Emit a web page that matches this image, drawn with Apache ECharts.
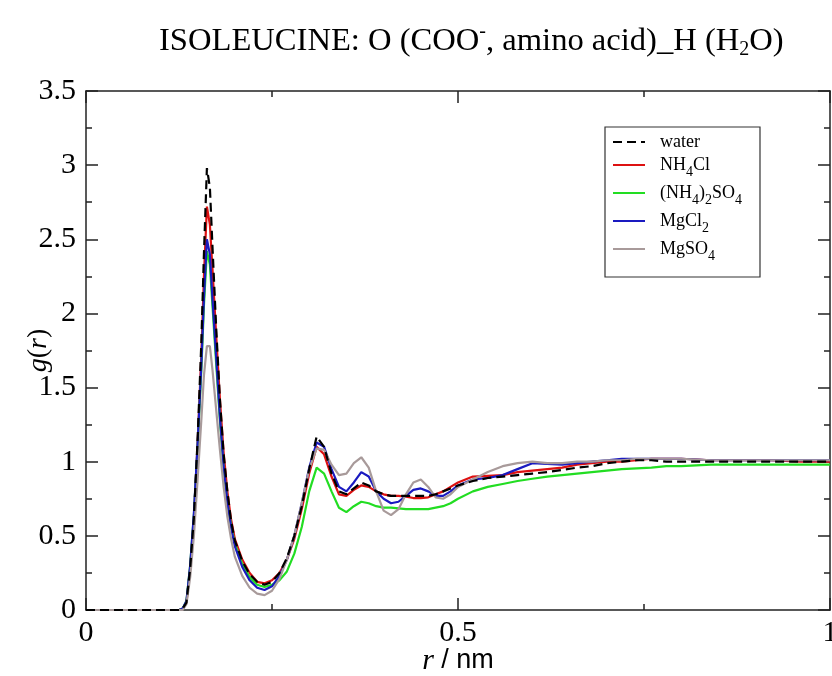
<!DOCTYPE html>
<html>
<head>
<meta charset="utf-8">
<script src="https://cdn.jsdelivr.net/npm/echarts@6/dist/echarts.min.js"></script>
<style>html,body{margin:0;padding:0;background:#fff}#c{width:832px;height:676px}</style>
</head>
<body>
<div id="c"></div>
<script>
var seriesNames = ['water', 'NH4Cl', '(NH4)2SO4', 'MgCl2', 'MgSO4'];
var rValues = [0, 0.05, 0.10, 0.125, 0.13, 0.135, 0.14, 0.145, 0.15, 0.155, 0.1585, 0.1625, 0.1665, 0.17, 0.175, 0.18, 0.185, 0.19, 0.195, 0.20, 0.21, 0.22, 0.23, 0.24, 0.25, 0.26, 0.27, 0.28, 0.29, 0.30, 0.31, 0.32, 0.33, 0.34, 0.35, 0.36, 0.37, 0.38, 0.39, 0.40, 0.41, 0.42, 0.43, 0.44, 0.45, 0.46, 0.47, 0.48, 0.49, 0.50, 0.52, 0.54, 0.56, 0.58, 0.60, 0.62, 0.64, 0.66, 0.68, 0.70, 0.72, 0.74, 0.76, 0.78, 0.80, 0.84, 0.88, 0.92, 0.96, 1.0];
var water = [0, 0, 0, 0, 0.01, 0.05, 0.28, 0.62, 1.15, 1.8, 2.4, 2.98, 2.85, 2.45, 1.9, 1.42, 1.05, 0.8, 0.6, 0.47, 0.33, 0.24, 0.19, 0.17, 0.19, 0.25, 0.35, 0.5, 0.7, 0.95, 1.17, 1.1, 0.92, 0.8, 0.78, 0.82, 0.86, 0.84, 0.8, 0.78, 0.77, 0.77, 0.77, 0.77, 0.77, 0.77, 0.78, 0.8, 0.82, 0.84, 0.87, 0.89, 0.9, 0.91, 0.92, 0.93, 0.945, 0.96, 0.97, 0.99, 1.0, 1.01, 1.01, 1.0, 1.0, 1.0, 1.0, 1.0, 1.0, 1.0];
var nh4cl = [0, 0, 0, 0, 0.01, 0.05, 0.28, 0.62, 1.12, 1.72, 2.25, 2.72, 2.6, 2.3, 1.85, 1.42, 1.06, 0.8, 0.61, 0.48, 0.34, 0.25, 0.19, 0.18, 0.2, 0.25, 0.34, 0.48, 0.68, 0.92, 1.1, 1.05, 0.9, 0.78, 0.77, 0.81, 0.84, 0.83, 0.8, 0.78, 0.77, 0.77, 0.765, 0.755, 0.755, 0.76, 0.78, 0.8, 0.83, 0.86, 0.9, 0.905, 0.91, 0.93, 0.94, 0.95, 0.96, 0.98, 0.99, 1.0, 1.0, 1.01, 1.02, 1.02, 1.02, 1.01, 1.01, 1.01, 1.0, 1.0];
var nh42so4 = [0, 0, 0, 0, 0.01, 0.06, 0.3, 0.64, 1.1, 1.62, 2.05, 2.42, 2.33, 2.05, 1.66, 1.28, 0.96, 0.73, 0.57, 0.45, 0.31, 0.22, 0.17, 0.155, 0.17, 0.2, 0.26, 0.38, 0.56, 0.8, 0.96, 0.92, 0.8, 0.69, 0.66, 0.7, 0.73, 0.72, 0.7, 0.69, 0.69, 0.685, 0.68, 0.68, 0.68, 0.68, 0.69, 0.7, 0.72, 0.75, 0.8, 0.83, 0.85, 0.87, 0.885, 0.9, 0.91, 0.92, 0.93, 0.94, 0.95, 0.955, 0.96, 0.97, 0.97, 0.98, 0.98, 0.98, 0.98, 0.98];
var mgcl2 = [0, 0, 0, 0, 0.01, 0.06, 0.3, 0.65, 1.12, 1.65, 2.1, 2.5, 2.4, 2.1, 1.7, 1.3, 0.97, 0.73, 0.56, 0.43, 0.29, 0.2, 0.15, 0.135, 0.16, 0.23, 0.34, 0.5, 0.72, 0.96, 1.13, 1.1, 0.95, 0.83, 0.8, 0.86, 0.93, 0.9, 0.8, 0.75, 0.72, 0.73, 0.77, 0.81, 0.82, 0.8, 0.77, 0.77, 0.8, 0.84, 0.88, 0.89, 0.91, 0.95, 0.99, 0.985, 0.98, 0.99, 1.0, 1.01, 1.02, 1.02, 1.02, 1.02, 1.02, 1.01, 1.01, 1.01, 1.01, 1.01];
var mgso4 = [0, 0, 0, 0, 0, 0.04, 0.22, 0.5, 0.88, 1.28, 1.58, 1.78, 1.78, 1.62, 1.35, 1.08, 0.83, 0.63, 0.48, 0.36, 0.23, 0.15, 0.11, 0.1, 0.13, 0.21, 0.34, 0.5, 0.72, 0.95, 1.09, 1.08, 0.98, 0.91, 0.92, 0.99, 1.03, 0.96, 0.8, 0.67, 0.64, 0.68, 0.78, 0.86, 0.88, 0.83, 0.76, 0.75, 0.78, 0.83, 0.88, 0.93, 0.97, 0.99, 1.0, 0.99, 0.99, 1.0, 1.0, 1.01, 1.01, 1.02, 1.02, 1.02, 1.02, 1.01, 1.01, 1.01, 1.01, 1.01];
var xTicks = [0, 0.5, 1];
var yTicks = [0, 0.5, 1, 1.5, 2, 2.5, 3, 3.5];

function pairs(vals) { return rValues.map(function (r, i) { return [r, vals[i]]; }); }

var serif = 'Liberation Serif';
var chart = echarts.init(document.getElementById('c'), null, { renderer: 'canvas' });
var legendLabels = {
  'water': '{p|}{t|water}',
  'NH4Cl': '{p|}{t|NH}{s|4}{t|Cl}',
  '(NH4)2SO4': '{p|}{t|(NH}{s|4}{t|)}{s|2}{t|SO}{s|4}',
  'MgCl2': '{p|}{t|MgCl}{s|2}',
  'MgSO4': '{p|}{t|MgSO}{s|4}'
};
var axisCommon = function () {
  return {
    axisLine: { show: true, onZero: false, lineStyle: { color: '#222', width: 1.5 } },
    axisTick: { show: true, inside: true, length: 12, lineStyle: { color: '#222', width: 1.5 } },
    minorTick: { show: true, splitNumber: 2, length: 6, lineStyle: { color: '#222', width: 1.5 } },
    splitLine: { show: false }
  };
};
var colors = ['#000000', '#dd1111', '#22dd22', '#1a1ac0', '#a89a9a'];
var dataSets = [water, nh4cl, nh42so4, mgcl2, mgso4];
var series = seriesNames.map(function (n, i) {
  return {
    name: n, type: 'line', data: pairs(dataSets[i]), showSymbol: false, symbol: 'none',
    z: i === 0 ? 10 : 2 + i,
    lineStyle: { color: colors[i], width: 2.2, type: i === 0 ? [9, 5] : 'solid' },
    itemStyle: { color: colors[i] }
  };
});

chart.setOption({
  animation: false,
  backgroundColor: '#fff',
  title: {
    text: '{a|ISOLEUCINE: O (COO}{sup|-}{a|, amino acid)_H (H}{sub|2}{a|O)}',
    left: 154, top: 17,
    textStyle: {
      rich: {
        a: { fontFamily: serif, fontSize: 32.6, fontWeight: 'normal', color: '#000' },
        sup: { fontFamily: serif, fontSize: 20, fontWeight: 'normal', color: '#000', padding: [0, 0, 18, 0] },
        sub: { fontFamily: serif, fontSize: 20, fontWeight: 'normal', color: '#000', padding: [18, 0, 0, 0] }
      }
    }
  },
  legend: {
    orient: 'vertical', left: 605, top: 127,
    data: seriesNames,
    borderColor: '#333', borderWidth: 1.2, padding: [6, 18, 14, 7],
    itemWidth: 32, itemHeight: 12, itemGap: 5,
    itemStyle: { opacity: 0 },
    formatter: function (n) { return legendLabels[n]; },
    textStyle: {
      rich: {
        p: { width: 10 },
        t: { fontFamily: serif, fontSize: 18, color: '#000' },
        s: { fontFamily: serif, fontSize: 14, color: '#000', padding: [14, 0, 0, 0] }
      }
    }
  },
  grid: { left: 86, right: 2, top: 91, bottom: 66, containLabel: false, outerBoundsMode: 'none' },
  xAxis: [
    Object.assign(axisCommon(), {
      type: 'value', min: xTicks[0], max: xTicks[xTicks.length - 1], interval: 0.5, position: 'bottom',
      axisLabel: { show: true, fontFamily: serif, fontSize: 30, color: '#000', margin: 8 },
      name: '{i|r}{n| / nm}', nameLocation: 'middle', nameGap: 36, nameMoveOverlap: false,
      nameTextStyle: { rich: { i: { fontFamily: serif, fontStyle: 'italic', fontSize: 30, color: '#000' }, n: { fontFamily: 'Liberation Sans', fontSize: 27, color: '#000' } } }
    }),
    Object.assign(axisCommon(), { type: 'value', min: 0, max: 1, interval: 0.5, position: 'top', axisLabel: { show: false } })
  ],
  yAxis: [
    Object.assign(axisCommon(), {
      type: 'value', min: yTicks[0], max: yTicks[yTicks.length - 1], interval: 0.5, position: 'left',
      axisLabel: { show: true, fontFamily: serif, fontSize: 30, color: '#000', margin: 10 },
      name: '{i|g}{n|(}{i|r}{n|)}', nameLocation: 'middle', nameGap: 33, nameRotate: 90, nameMoveOverlap: false,
      nameTextStyle: { rich: { i: { fontFamily: serif, fontStyle: 'italic', fontSize: 28, color: '#000' }, n: { fontFamily: serif, fontSize: 28, color: '#000' } } }
    }),
    Object.assign(axisCommon(), { type: 'value', min: 0, max: 3.5, interval: 0.5, position: 'right', axisLabel: { show: false } })
  ],
  series: series
});
</script>
</body>
</html>
